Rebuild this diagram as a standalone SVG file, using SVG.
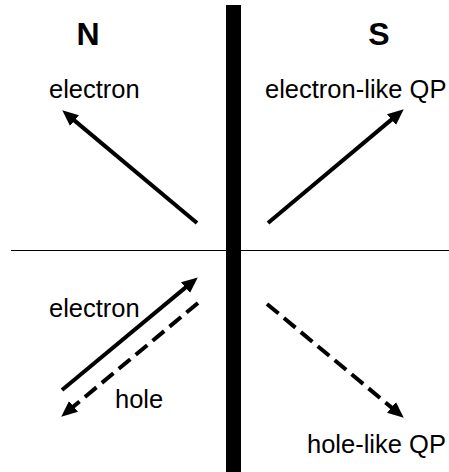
<svg xmlns="http://www.w3.org/2000/svg" width="449" height="472" viewBox="0 0 449 472">
<style>
.lbl{font-family:"Liberation Sans",Arial,sans-serif;font-size:25.5px;fill:#000}
.hd{font-family:"Liberation Sans",Arial,sans-serif;font-size:32px;font-weight:bold;fill:#000;text-anchor:middle}
.arr{stroke:#000;stroke-width:4;fill:none;marker-end:url(#ah)}
.dash{stroke-dasharray:15 7}
</style>
<defs>
<marker id="ah" markerUnits="userSpaceOnUse" markerWidth="18" markerHeight="15" refX="5" refY="7" orient="auto">
<path d="M0,0 L16,7 L0,14 z" fill="#000"/>
</marker>
</defs>
<rect width="449" height="472" fill="#fff"/>
<g id="interface">
<line x1="11" y1="250.5" x2="449" y2="250.5" stroke="#000" stroke-width="1"/>
<rect x="226" y="5" width="15" height="467" fill="#000"/>
</g>
<g id="labels">
<text class="hd" x="88" y="45">N</text>
<text class="hd" x="379" y="45">S</text>
</g>
<g id="node-electron-reflected"><text class="lbl" x="49" y="98">electron</text></g>
<g id="node-electron-like-qp"><text class="lbl" x="265" y="98">electron-like QP</text></g>
<g id="node-electron-incident"><text class="lbl" x="49" y="317">electron</text></g>
<g id="node-hole"><text class="lbl" x="115" y="408">hole</text></g>
<g id="node-hole-like-qp"><text class="lbl" x="307" y="453">hole-like QP</text></g>
<g id="connectors">
<line class="arr" x1="197" y1="223" x2="70.7" y2="117.4"/>
<line class="arr" x1="268" y1="223" x2="395.3" y2="116.4"/>
<line class="arr" x1="62" y1="390" x2="189.3" y2="284.4"/>
<line class="arr dash" x1="198" y1="303" x2="69.7" y2="409.6"/>
<line class="arr dash" x1="267" y1="304" x2="395.3" y2="410.6"/>
</g>
</svg>
